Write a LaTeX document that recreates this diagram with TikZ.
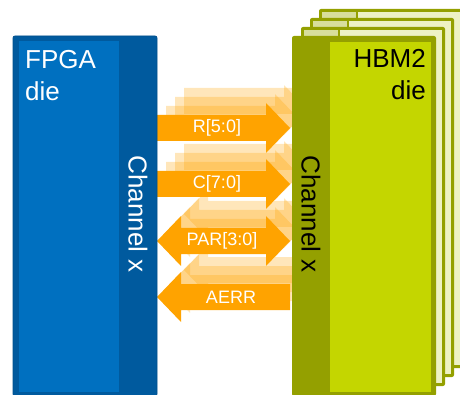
\documentclass[tikz,border=0pt]{standalone}
\usepackage{fontspec}
\setmainfont{Liberation Sans}
\definecolor{arrorange}{HTML}{FFA300}
\definecolor{fpgaouter}{HTML}{005A9E}
\definecolor{fpgaedge}{HTML}{004F8C}
\definecolor{fpgainner}{HTML}{0070C0}
\definecolor{hbmouter}{HTML}{94A000}
\definecolor{hbminner}{HTML}{C4D600}
\definecolor{hbmpaleL}{HTML}{D8DE9C}
\definecolor{hbmpaleR}{HTML}{EEF2C4}

% Signal arrows, centred on a given y (pixel-like units, y pointing down)
\newcommand\sigright[2]{%
  \fill[#2] (157,#1-13) -- (266,#1-13) -- (266,#1-25) -- (290,#1)
    -- (266,#1+25) -- (266,#1+13) -- (157,#1+13) -- cycle;}
\newcommand\sigboth[2]{%
  \fill[#2] (157,#1) -- (181,#1-25) -- (181,#1-13) -- (266,#1-13)
    -- (266,#1-25) -- (290,#1) -- (266,#1+25) -- (266,#1+13)
    -- (181,#1+13) -- (181,#1+25) -- cycle;}
\newcommand\sigleft[2]{%
  \fill[#2] (157,#1) -- (181,#1-25) -- (181,#1-13) -- (290,#1-13)
    -- (290,#1+13) -- (181,#1+13) -- (181,#1+25) -- cycle;}
\newcommand\allsignals[1]{%
  \sigright{128}{#1}\sigright{184}{#1}\sigboth{241}{#1}\sigleft{297}{#1}}

\tikzset{
  arrfill/.style={fill=arrorange},
  ghostfill/.style={fill=arrorange, fill opacity=0.27},
  siglabel/.style={text=white, inner sep=0pt, font=\fontsize{18}{20}\selectfont},
  dietitle/.style={inner sep=0pt, font=\fontsize{26}{32}\selectfont},
  chanlabel/.style={inner sep=0pt, rotate=-90, font=\fontsize{26}{30}\selectfont},
}

\begin{document}
\begin{tikzpicture}[x=1pt, y=-1pt]
  \useasboundingbox (0,0) rectangle (460,395);

  % stacked HBM dies behind the front one
  \foreach \k in {3,2,1} {
    \begin{scope}[shift={(9*\k,-9*\k)}]
      \fill[hbmouter, rounded corners=2pt] (292,36) rectangle (436,395);
      \fill[hbmpaleL] (295,39) rectangle (329,392);
      \fill[hbmpaleR] (331,39) rectangle (433,392);
    \end{scope}
  }

  % faded copies of the channel signals for the stacked dies
  \foreach \k in {3,2,1} {
    \begin{scope}[shift={(9*\k,-9*\k)}]
      \allsignals{ghostfill}
    \end{scope}
  }
  % channel signals of the front die
  \allsignals{arrfill}

  % FPGA die
  \fill[fpgaouter, draw=fpgaedge, line width=0.8pt, rounded corners=2pt]
    (13,36) rectangle (157,396);
  \fill[fpgainner] (19,41) rectangle (119,392);
  \node[dietitle, text=white, align=left, anchor=north west] (fpga) at (25,50.5)
    {FPGA\\die};
  \node[chanlabel, text=white] (fpgach) at (138,214) {Channel x};

  % front HBM2 die
  \fill[hbmouter, rounded corners=2pt] (292,36) rectangle (436,396);
  \fill[hbminner] (330,42) rectangle (431,392);
  \node[dietitle, text=black, align=right, anchor=north east] (hbm) at (426,49.5)
    {HBM2\\die};
  \node[chanlabel, text=black] (hbmch) at (311,214) {Channel x};

  % signal names
  \node[siglabel] (r) at (217,128) {R[5:0]};
  \node[siglabel] (c) at (217,184) {C[7:0]};
  \node[siglabel] (par) at (222,241) {PAR[3:0]};
  \node[siglabel] (aerr) at (231,297) {AERR};
\end{tikzpicture}
\end{document}
